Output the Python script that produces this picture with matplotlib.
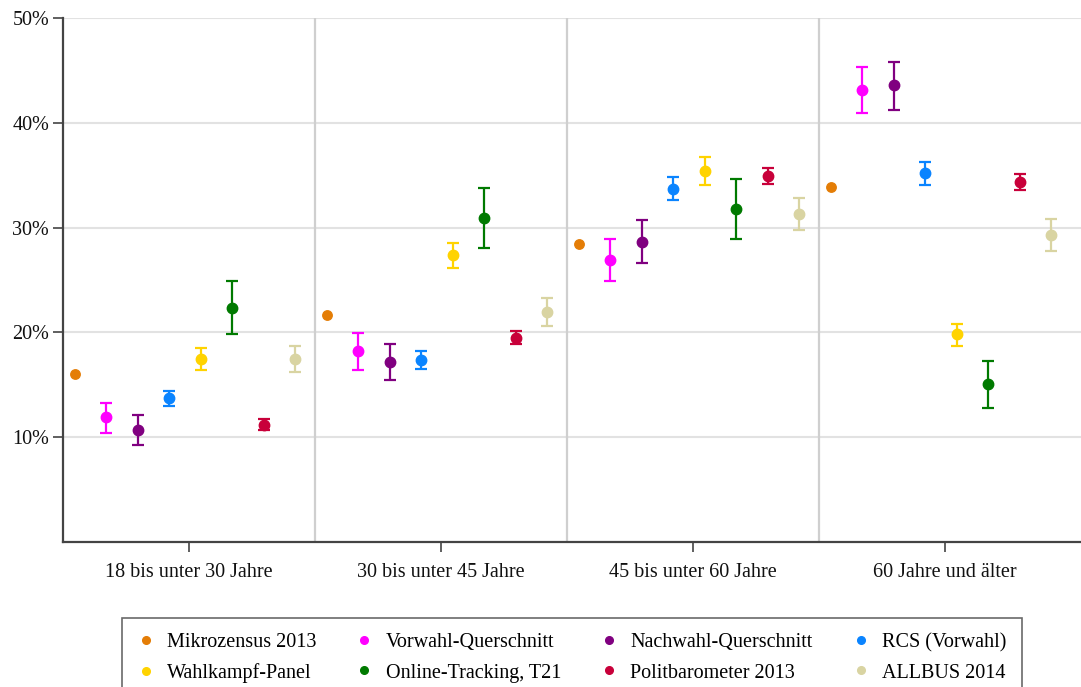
import matplotlib
matplotlib.use("Agg")
import matplotlib.pyplot as plt
from matplotlib.lines import Line2D
import numpy as np

plt.rcParams['font.family'] = ['Liberation Serif', 'DejaVu Serif']

groups = ["18 bis unter 30 Jahre", "30 bis unter 45 Jahre", "45 bis unter 60 Jahre", "60 Jahre und älter"]

series_names = ["Mikrozensus 2013", "Vorwahl-Querschnitt", "Nachwahl-Querschnitt", "RCS (Vorwahl)",
                "Wahlkampf-Panel", "Online-Tracking, T21", "Politbarometer 2013", "ALLBUS 2014"]
colors = ["#E47D06", "#FF00FF", "#800080", "#0A84FF", "#FFD300", "#007A00", "#C8003A", "#D9D4A2"]

# values in percent, per series over the four age groups
mikrozensus = [16.0, 21.7, 28.4, 33.9]
vorwahl = [11.9, 18.2, 26.9, 43.1]
vorwahl_lo = [10.4, 16.4, 24.9, 40.9]
vorwahl_hi = [13.3, 19.9, 28.9, 45.3]
nachwahl = [10.7, 17.2, 28.6, 43.6]
nachwahl_lo = [9.3, 15.5, 26.6, 41.2]
nachwahl_hi = [12.1, 18.9, 30.7, 45.8]
rcs = [13.7, 17.4, 33.7, 35.2]
rcs_lo = [12.95, 16.5, 32.6, 34.1]
rcs_hi = [14.45, 18.2, 34.8, 36.3]
panel = [17.5, 27.4, 35.4, 19.8]
panel_lo = [16.45, 26.1, 34.1, 18.75]
panel_hi = [18.5, 28.55, 36.7, 20.8]
online = [22.3, 30.9, 31.8, 15.1]
online_lo = [19.8, 28.1, 28.9, 12.8]
online_hi = [24.9, 33.75, 34.6, 17.25]
politbarometer = [11.2, 19.5, 34.95, 34.35]
politbarometer_lo = [10.7, 18.9, 34.2, 33.6]
politbarometer_hi = [11.7, 20.15, 35.7, 35.15]
allbus = [17.5, 21.95, 31.3, 29.3]
allbus_lo = [16.2, 20.6, 29.8, 27.8]
allbus_hi = [18.7, 23.3, 32.8, 30.8]

values = [mikrozensus, vorwahl, nachwahl, rcs, panel, online, politbarometer, allbus]
lows = [None, vorwahl_lo, nachwahl_lo, rcs_lo, panel_lo, online_lo, politbarometer_lo, allbus_lo]
highs = [None, vorwahl_hi, nachwahl_hi, rcs_hi, panel_hi, online_hi, politbarometer_hi, allbus_hi]

W, H = 1081, 687
fig = plt.figure(figsize=(W / 100, H / 100), dpi=100)
ax = fig.add_axes([63 / W, 1 - 542 / H, (W - 63) / W, (542 - 18) / H])

n_groups = len(groups)
for i, (name, vals, lo, hi, col) in enumerate(zip(series_names, values, lows, highs, colors)):
    x = np.arange(n_groups) + 0.0476 + 0.125 * i
    v = np.array(vals)
    if lo is None:
        ax.plot(x, v, 'o', color=col, markersize=6.8, zorder=3)
    else:
        yerr = np.vstack([v - np.array(lo), np.array(hi) - v])
        ax.errorbar(x, v, yerr=yerr, fmt='o', color=col, ecolor=col, markersize=7.5,
                    elinewidth=1.6, capsize=4.2, capthick=1.6, zorder=3)

ax.set_xlim(0, (W - 63) / 252)
ax.set_ylim(0, 50)
ax.set_yticks([10, 20, 30, 40, 50])
ax.set_yticklabels([f"{t}%" for t in [10, 20, 30, 40, 50]])
ax.set_xticks(np.arange(n_groups) + 0.5)
ax.set_xticklabels(groups)

ax.yaxis.grid(True, color="#e2e2e2", linewidth=1.5, zorder=0)
ax.set_axisbelow(True)
for g in range(1, n_groups):
    ax.axvline(g, color="#cfcfcf", linewidth=1.6, zorder=1)

for s in ["top", "right"]:
    ax.spines[s].set_visible(False)
for s in ["left", "bottom"]:
    ax.spines[s].set_color("#444444")
    ax.spines[s].set_linewidth(1.6)

ax.tick_params(axis='y', length=7, width=1.2, color="#444444", labelsize=14.5, pad=3, labelcolor="#111111")
ax.tick_params(axis='x', length=7, width=1.2, color="#444444", labelsize=14.5, pad=8, labelcolor="#111111")

handles = [Line2D([], [], marker='o', linestyle='none', color=c, markersize=5.5) for c in colors]
order = [0, 4, 1, 5, 2, 6, 3, 7]  # row-wise filling for 4 columns
leg = fig.legend([handles[k] for k in order], [series_names[k] for k in order],
                 loc='upper center', bbox_to_anchor=(572 / W, 1 - 618 / H), borderaxespad=0,
                 ncol=4, fontsize=14.5, frameon=True, fancybox=False, edgecolor="#444444",
                 handlelength=0.8, handletextpad=0.65, columnspacing=2.0, labelspacing=0.55,
                 borderpad=0.75)
leg.get_frame().set_linewidth(1.2)

fig.savefig("out.png", dpi=100)
